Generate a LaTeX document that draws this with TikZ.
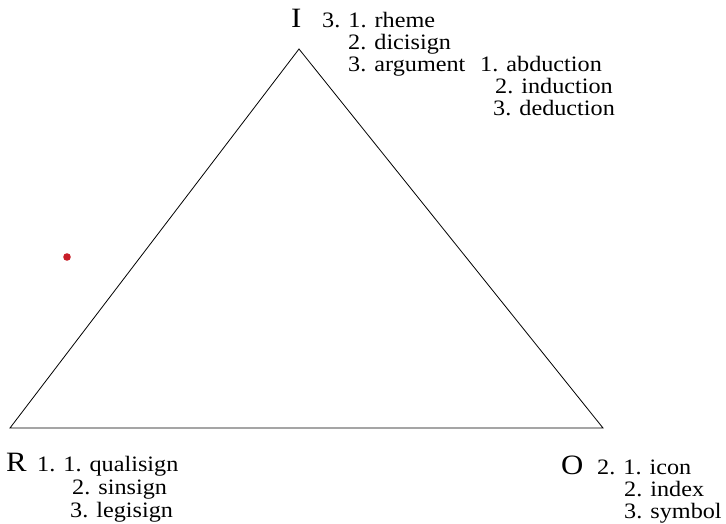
\documentclass[tikz,border=0pt]{standalone}
\usepackage{fontspec}
\setmainfont{Liberation Serif}[FakeStretch=1.1]
\definecolor{dotred}{RGB}{200,30,40}
\tikzset{
  lbl/.style={anchor=base west, inner sep=0pt, font=\fontsize{22}{24}\selectfont},
  big/.style={anchor=base west, inner sep=0pt, font=\fontsize{28}{30}\selectfont},
  edge/.style={draw=black, line width=0.8pt}
}
\begin{document}
\begin{tikzpicture}[x=1pt,y=-1pt]
\useasboundingbox (0,0) rectangle (726,524);
\coordinate (I) at (299,49);
\coordinate (R) at (10,428);
\coordinate (O) at (603,428);
\draw[edge] (I) -- (O) -- (R) -- cycle;
\fill[dotred] (67,257) circle (3.8);
% I
\node[big] (labI) at (291,28) {I};
\node[lbl] (i1) at (322,28) {3. 1. rheme};
\node[lbl] (i2) at (348,50) {2. dicisign};
\node[lbl] (i3) at (348,72) {3. argument};
\node[lbl] (a1) at (480,72) {1. abduction};
\node[lbl] (a2) at (495,94) {2. induction};
\node[lbl] (a3) at (493,116) {3. deduction};
% R
\node[big] (labR) at (6,471) {R};
\node[lbl] (r1) at (37,471) {1. 1. qualisign};
\node[lbl] (r2) at (72,494) {2. sinsign};
\node[lbl] (r3) at (70,517) {3. legisign};
% O
\node[big] (labO) at (561,474) {O};
\node[lbl] (o1) at (597,474) {2. 1. icon};
\node[lbl] (o2) at (624,496) {2. index};
\node[lbl] (o3) at (624,518) {3. symbol};
\end{tikzpicture}
\end{document}
